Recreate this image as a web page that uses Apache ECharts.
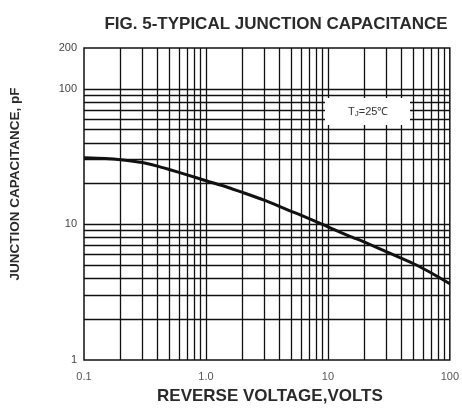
<!DOCTYPE html>
<html><head><meta charset="utf-8">
<script src="https://cdn.jsdelivr.net/npm/echarts@6/dist/echarts.min.js"></script>
<style>html,body{margin:0;padding:0;background:#fff}#c{width:462px;height:410px}</style>
</head><body><div id="c"></div>
<script>
const voltage = [0.1, 0.15, 0.2, 0.3, 0.4, 0.5, 0.7, 1, 1.5, 2, 3, 4, 5, 6, 8, 10, 15, 20, 30, 50, 70, 100];
const capacitance = [31, 30.6, 30, 28.6, 26.9, 25.4, 23.2, 21, 18.8, 17.2, 15.1, 13.6, 12.5, 11.7, 10.5, 9.6, 8.2, 7.4, 6.3, 5.15, 4.4, 3.65];
const xTickValues = [0.1, 1, 10, 100];
const xTickLabels = ['0.1', '1.0', '10', '100'];
const yTickValues = [1, 10, 100, 200];
const yTickLabels = ['1', '10', '100', '200'];
const xGridValues = [0.2, 0.3, 0.4, 0.5, 0.6, 0.7, 0.8, 0.9, 1, 2, 3, 4, 5, 6, 7, 8, 9, 10, 20, 30, 40, 50, 60, 70, 80, 90];
const yGridValues = [2, 3, 4, 5, 6, 7, 8, 9, 10, 20, 30, 40, 50, 60, 70, 80, 90, 100];

const FONT = 'Liberation Sans, Arial, sans-serif';
function pick(vals, labels, v) {
  let best = 0, bd = Infinity;
  vals.forEach((t, i) => { const d = Math.abs(Math.log10(t) - Math.log10(v)); if (d < bd) { bd = d; best = i; } });
  return labels[best];
}

const chart = echarts.init(document.getElementById('c'), null, { renderer: 'canvas' });
const gridLineStyle = { color: '#111', width: 1.3, type: 'solid' };
chart.setOption({
  animation: false,
  backgroundColor: '#fff',
  title: {
    text: 'FIG. 5-TYPICAL JUNCTION CAPACITANCE',
    left: 271, top: 11, textAlign: 'center',
    textStyle: { fontFamily: FONT, fontSize: 17, fontWeight: 'bold', color: '#2a2a2a' }
  },
  grid: { left: 83, right: 6, top: 48, bottom: 44, show: true, borderColor: '#111', borderWidth: 1.5, backgroundColor: 'transparent' },
  xAxis: {
    type: 'log', logBase: 10, min: 0.1, max: 100,
    name: 'REVERSE VOLTAGE,VOLTS', nameLocation: 'middle', nameGap: 28,
    nameTextStyle: { fontFamily: FONT, fontSize: 17, fontWeight: 'bold', color: '#2a2a2a', padding: [0, 0, 0, 6] },
    axisLine: { show: false }, axisTick: { show: false }, splitLine: { show: false }, minorSplitLine: { show: false },
    axisLabel: {
      customValues: xTickValues, margin: 11,
      fontFamily: FONT, fontSize: 11, color: '#555',
      formatter: v => pick(xTickValues, xTickLabels, v)
    }
  },
  yAxis: {
    type: 'log', logBase: 10, min: 1, max: 200,
    name: 'JUNCTION CAPACITANCE, pF', nameLocation: 'middle', nameGap: 62,
    nameTextStyle: { fontFamily: FONT, fontSize: 13.5, fontWeight: 'bold', color: '#2a2a2a', padding: [0, 0, 0, 40] },
    axisLine: { show: false }, axisTick: { show: false }, splitLine: { show: false }, minorSplitLine: { show: false },
    axisLabel: {
      customValues: yTickValues, margin: 7,
      fontFamily: FONT, fontSize: 11, color: '#444',
      formatter: v => pick(yTickValues, yTickLabels, v)
    }
  },
  graphic: [
    { type: 'rect', left: 325, top: 98, z: 100, shape: { x: 0, y: 0, width: 85, height: 27 }, style: { fill: '#fff' } },
    { type: 'text', left: 348, top: 106, z: 101, style: {
        text: '{a|T}{b|J}{a|=25℃}',
        rich: {
          a: { fontFamily: FONT, fontSize: 11, fill: '#333', color: '#333' },
          b: { fontFamily: FONT, fontSize: 8, fill: '#333', color: '#333', padding: [5, 0, 0, 0] }
        }
      } }
  ],
  series: [
    {
      type: 'line', data: [], silent: true, z: 1,
      markLine: {
        silent: true, symbol: 'none', animation: false, label: { show: false },
        lineStyle: gridLineStyle,
        data: xGridValues.map(v => ({ xAxis: v })).concat(yGridValues.map(v => ({ yAxis: v })))
      }
    },
    {
      type: 'line', z: 5, smooth: 0.25, showSymbol: false, symbol: 'none', silent: true,
      lineStyle: { color: '#111', width: 3 },
      data: voltage.map((v, i) => [v, capacitance[i]])
    }
  ]
});
</script></body></html>
